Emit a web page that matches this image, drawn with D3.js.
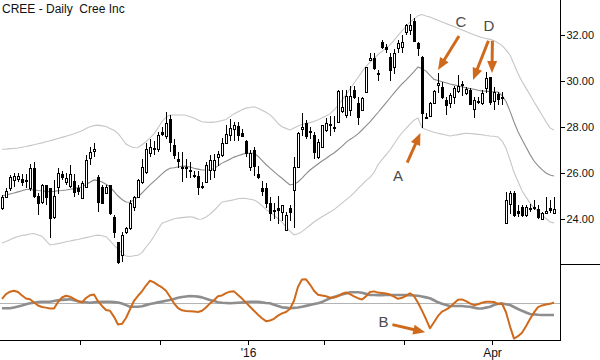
<!DOCTYPE html>
<html><head><meta charset="utf-8">
<script src="https://cdn.jsdelivr.net/npm/d3@7"></script>
<style>
html,body{margin:0;padding:0;background:#fff;}
svg{display:block;font-family:"Liberation Sans",Arial,sans-serif;}
</style></head><body>
<svg id="c" width="600" height="360"></svg>
<script>
// ---- data (one entry per trading day) ----
const opens=[24.48,24.97,25.35,25.70,25.72,25.74,25.70,25.35,26.22,25.00,
24.74,25.48,25.35,24.09,25.39,25.96,25.60,25.43,25.65,25.35,
24.91,25.39,26.65,26.96,25.83,25.39,25.13,25.48,24.09,23.00,
22.43,23.43,23.60,24.52,24.96,25.60,26.04,26.87,27.05,27.04,
27.78,27.60,28.35,27.22,26.60,26.25,26.20,26.15,25.90,25.87,
25.45,25.60,26.13,26.13,26.70,26.78,27.30,27.65,27.91,28.04,
27.74,27.39,26.26,27.00,25.96,25.35,25.35,24.70,24.40,24.48,
24.30,23.52,24.48,25.26,26.26,27.90,28.17,27.80,27.65,26.70,
27.13,27.87,28.10,28.00,28.22,28.70,28.52,28.74,29.61,29.04,
28.74,29.52,30.90,31.00,30.35,31.70,31.48,31.04,30.60,31.43,
31.48,32.13,32.22,32.60,31.65,31.04,28.45,28.48,29.04,29.83,
29.74,29.17,29.04,29.30,29.57,29.83,29.48,29.61,28.78,29.10,
29.04,29.70,30.17,29.13,29.43,29.30,23.83,24.65,25.13,24.35,
24.52,24.17,24.45,24.50,24.43,24.00,24.26,24.48,24.26];
const highs=[25.05,25.35,25.90,26.00,26.00,25.96,25.95,26.40,26.48,25.13,
25.52,25.50,25.35,25.70,26.20,26.10,26.00,26.35,25.96,25.48,
25.65,26.78,27.13,27.30,25.90,25.48,25.48,25.48,24.17,23.00,
23.43,23.65,24.83,25.00,25.74,26.60,27.30,27.50,27.40,27.80,
28.00,28.65,28.52,27.50,26.90,26.90,26.60,26.50,26.10,26.10,
25.60,26.50,26.78,26.83,26.96,27.52,28.10,28.35,28.20,28.20,
27.90,27.43,27.00,27.13,26.30,25.65,25.57,24.96,24.70,25.00,
24.60,24.30,24.60,26.70,27.80,28.60,28.30,28.00,27.80,27.50,
28.10,28.40,28.50,28.50,29.60,29.60,29.60,29.80,29.80,29.30,
29.30,30.60,31.20,31.20,30.48,31.80,31.60,31.20,31.40,31.80,
32.00,32.50,32.90,32.75,31.70,31.10,28.60,29.10,29.60,30.35,
29.96,29.30,29.48,29.78,30.26,30.00,29.74,29.70,29.30,29.30,
29.60,30.40,30.17,29.74,29.52,29.52,25.17,25.20,25.22,24.60,
24.60,24.60,24.65,24.83,24.60,24.30,24.96,24.83,24.96];
const lows=[24.40,24.90,25.20,25.40,25.60,25.45,25.35,25.20,24.90,24.17,
24.65,24.60,23.17,24.00,25.10,25.70,25.50,25.35,24.96,25.04,
24.91,25.39,26.35,26.70,24.30,24.65,25.09,24.17,23.17,22.05,
22.13,23.35,23.52,24.35,24.90,25.52,25.96,26.70,26.80,26.90,
27.60,27.50,26.90,26.60,26.20,25.60,25.80,25.80,25.78,25.04,
25.30,25.55,25.70,25.80,26.30,26.70,27.26,27.40,27.40,27.40,
27.55,26.70,26.10,25.87,25.75,25.00,24.48,23.90,24.00,23.80,
23.90,23.48,23.90,23.60,26.20,27.60,27.50,27.50,26.60,26.60,
27.10,27.80,27.60,27.80,28.20,28.60,28.40,28.50,29.20,28.10,
28.70,29.50,30.85,30.50,30.00,31.40,31.20,30.00,30.30,31.20,
31.20,32.00,32.00,31.70,31.10,27.96,28.35,28.45,29.00,29.48,
29.22,28.52,28.83,29.00,29.50,29.35,29.40,28.96,28.39,29.00,
28.96,29.50,28.96,28.74,28.96,28.96,23.80,24.20,24.10,24.10,
24.10,24.10,24.30,24.39,24.00,23.96,24.26,24.26,24.22];
const closes=[24.96,25.23,25.83,25.87,25.87,25.62,25.65,26.22,25.00,24.70,
25.48,24.96,24.04,25.00,26.00,25.83,25.80,25.96,25.17,25.22,
25.57,26.57,26.91,27.04,24.74,24.70,25.39,24.26,23.43,22.13,
23.30,23.60,24.70,24.96,25.70,26.26,27.04,27.13,27.09,27.65,
27.70,28.17,27.35,26.78,26.52,26.20,26.25,26.10,25.85,25.39,
25.40,26.35,26.57,26.57,26.83,27.30,27.70,27.96,28.09,27.65,
27.61,26.87,26.87,26.30,25.83,25.22,24.70,24.26,24.35,24.40,
24.60,24.17,24.30,26.26,27.74,28.00,27.61,27.82,26.91,27.35,
28.09,28.17,28.12,28.02,29.57,28.87,29.35,29.35,29.30,28.43,
29.26,30.60,31.00,30.57,30.30,31.48,31.39,30.48,31.20,31.65,
31.70,32.43,32.43,31.75,31.43,28.60,28.38,29.04,29.57,29.90,
29.30,28.96,29.39,29.70,29.78,29.87,29.65,29.00,29.17,29.13,
29.48,30.13,29.09,29.52,29.22,29.26,24.83,25.13,24.17,24.26,
24.17,24.52,24.48,24.52,24.09,24.26,24.35,24.40,24.43];
const bandUpper=[27.03,27.04,27.06,27.07,27.09,27.12,27.15,27.19,27.23,27.27,
27.31,27.36,27.40,27.45,27.50,27.55,27.60,27.65,27.71,27.77,
27.84,27.93,28.01,28.06,28.08,28.05,28.02,27.94,27.86,27.72,
27.50,27.26,27.16,27.10,27.11,27.23,27.36,27.53,27.70,27.96,
28.24,28.42,28.52,28.52,28.52,28.52,28.51,28.45,28.39,28.30,
28.23,28.21,28.20,28.21,28.24,28.28,28.33,28.45,28.57,28.66,
28.75,28.82,28.85,28.88,28.82,28.73,28.64,28.53,28.36,28.15,
28.01,27.94,27.87,27.96,28.04,28.11,28.15,28.19,28.24,28.31,
28.40,28.48,28.57,28.74,28.93,29.17,29.41,29.65,29.90,30.15,
30.41,30.64,30.82,30.99,31.14,31.29,31.43,31.57,31.77,31.98,
32.18,32.37,32.57,32.70,32.84,32.89,32.83,32.78,32.71,32.64,
32.57,32.50,32.43,32.37,32.29,32.22,32.15,32.08,32.01,31.95,
31.89,31.85,31.81,31.76,31.65,31.55,31.35,31.13,30.73,30.33,
29.98,29.69,29.40,29.10,28.81,28.52,28.23,27.96,27.87];
const bandMiddle=[25.00,25.04,25.09,25.13,25.18,25.23,25.28,25.28,25.26,25.24,
25.23,25.20,25.19,25.20,25.23,25.24,25.26,25.29,25.32,25.36,
25.39,25.50,25.60,25.70,25.67,25.61,25.51,25.40,25.20,25.00,
24.85,24.74,24.73,24.83,24.96,25.13,25.31,25.48,25.64,25.80,
25.96,26.11,26.21,26.23,26.26,26.29,26.30,26.26,26.21,26.17,
26.13,26.13,26.13,26.20,26.31,26.43,26.51,26.60,26.69,26.75,
26.81,26.86,26.86,26.86,26.73,26.55,26.37,26.21,26.06,25.91,
25.77,25.62,25.48,25.52,25.61,25.78,25.96,26.13,26.26,26.39,
26.52,26.63,26.76,26.87,27.01,27.16,27.33,27.46,27.57,27.70,
27.87,28.05,28.22,28.43,28.63,28.84,29.05,29.26,29.47,29.68,
29.87,30.04,30.22,30.41,30.61,30.53,30.43,30.24,30.07,30.02,
29.97,29.92,29.87,29.83,29.79,29.75,29.70,29.67,29.64,29.60,
29.57,29.56,29.54,29.53,29.52,29.37,29.11,28.69,28.22,27.79,
27.46,27.13,26.81,26.52,26.32,26.15,26.00,25.91,25.87];
const bandLower=[22.96,23.02,23.10,23.18,23.24,23.28,23.31,23.35,23.37,23.30,
23.25,23.06,22.87,22.90,22.93,22.97,23.01,23.04,23.08,23.11,
23.15,23.19,23.23,23.27,23.30,23.27,23.23,23.06,22.86,22.68,
22.53,22.39,22.37,22.40,22.42,22.54,22.77,22.99,23.25,23.54,
23.82,23.88,23.95,24.01,24.04,24.06,24.08,24.10,24.07,23.99,
24.00,24.09,24.21,24.37,24.55,24.73,24.77,24.80,24.84,24.88,
24.90,24.89,24.86,24.83,24.73,24.58,24.42,24.29,24.16,24.02,
23.86,23.66,23.47,23.31,23.36,23.45,23.59,23.73,23.87,23.99,
24.10,24.20,24.30,24.41,24.55,24.69,24.83,24.97,25.14,25.32,
25.49,25.67,25.81,26.02,26.36,26.58,26.79,27.00,27.26,27.52,
27.75,27.94,28.13,28.30,28.39,27.96,27.89,27.83,27.77,27.73,
27.69,27.65,27.61,27.64,27.67,27.70,27.73,27.72,27.70,27.68,
27.66,27.63,27.61,27.60,27.57,27.40,27.08,26.57,26.03,25.63,
25.23,24.95,24.70,24.48,24.33,24.18,24.02,23.87,23.83];
const oscillator=[55.3,61.8,64.9,66.2,64.5,59.9,55.9,54.9,50.7,46.7,
44.7,43.9,42.8,42.8,51.3,57.2,59.5,58.3,55.5,52.4,
50.8,56.6,60.1,61.2,52.4,46.1,40.7,39.9,31.8,21.8,
22.6,30.3,41.6,52.9,59.5,65.4,73.0,79.3,77.2,73.6,
70.5,66.1,58.3,49.6,43.4,40.4,39.6,39.1,38.7,38.2,
39.9,44.1,49.5,53.6,58.8,59.9,63.0,64.9,65.3,60.5,
55.8,50.5,45.1,39.9,34.6,30.0,26.1,27.0,29.2,33.4,
36.4,38.2,42.4,52.9,71.4,80.9,81.2,74.3,66.2,60.9,
59.9,58.8,57.0,57.2,59.1,62.1,63.8,61.6,58.7,56.3,
54.5,58.7,64.5,65.3,63.7,63.2,62.4,61.1,58.4,55.5,
56.8,59.5,62.8,59.2,50.4,39.9,28.9,16.7,24.7,33.0,
38.6,41.2,44.6,49.6,54.2,54.7,52.4,49.5,47.1,48.3,
50.3,51.6,51.7,51.3,48.6,49.3,37.8,19.3,3.2,6.3,
10.8,19.5,28.9,37.6,44.6,46.8,47.9,48.9,50.7];
const oscSignal=[43.0,43.0,43.0,44.2,45.4,46.7,48.2,49.6,50.4,51.3,
51.7,51.7,51.7,52.6,53.6,54.1,54.5,54.9,53.6,52.4,
51.4,50.9,50.4,50.9,51.4,51.7,51.7,51.7,51.2,50.7,
49.3,47.2,45.1,45.1,45.1,45.8,47.2,48.7,49.7,50.8,
51.8,52.9,53.9,55.4,56.8,57.9,58.6,59.2,58.8,58.4,
57.4,55.7,53.9,52.5,51.1,50.3,49.9,49.6,49.9,50.3,
50.7,51.2,51.7,51.7,51.7,50.8,50.1,49.6,47.8,46.1,
44.3,43.9,43.0,43.6,44.1,45.0,46.2,47.4,48.6,49.7,
51.3,53.8,56.2,57.9,59.6,61.2,62.6,64.1,64.1,64.1,
63.4,62.0,60.5,60.5,60.3,60.3,60.5,60.5,60.5,60.5,
60.5,60.3,60.3,59.9,59.5,58.6,57.4,56.2,53.6,50.9,
48.9,47.5,46.1,46.1,46.1,46.0,45.5,45.1,43.9,42.8,
42.8,43.9,45.1,47.4,49.1,49.2,48.3,47.4,44.7,42.1,
39.7,37.6,35.5,35.0,34.5,34.2,34.2,34.2,34.2];
const oscRef=50;
const priceTicks=[24,26,28,30,32];
const monthTickIdx=[21,41,63,82,102,124];
const monthTickLabels=["","","'16","","","Apr"];
const title="CREE - Daily  Cree Inc";
// annotations in data coords: [dayIndex, value]
const annotations=[
 {label:"C", panel:"price", at:[115.75,32.57], arrows:[[[115.25,31.96],[110,30.48]]]},
 {label:"D", panel:"price", at:[122.75,32.40], arrows:[[[122.6,31.75],[118.75,30.04]],[[123.6,31.75],[123.5,30.35]]]},
 {label:"A", panel:"price", at:[100,25.87], arrows:[[[102.3,26.45],[105.6,27.74]]]},
 {label:"B", panel:"osc", at:[96.4,25], arrows:[[[98.6,21.5],[106.8,11.5]]]}
];

// ---- drawing ----
const svg=d3.select("#c");
const axisX=560;
const x=d3.scaleLinear().domain([1,139]).range([2,554]);
const y=d3.scaleLinear().domain([22,32]).range([265,35]);
const yo=d3.scaleLinear().domain([0,100]).range([341,265]);
const days=d3.range(1,opens.length+1);
const candles=days.map((d,i)=>({i:d,o:opens[i],h:highs[i],l:lows[i],c:closes[i]}));

function bandLine(arr,sc){return d3.line().x((d,i)=>x(i+1)).y(d=>sc(d))(arr);}
svg.append("path").attr("d",bandLine(bandUpper,y)).attr("fill","none").attr("stroke","#c6c6c6").attr("stroke-width",1.1);
svg.append("path").attr("d",bandLine(bandLower,y)).attr("fill","none").attr("stroke","#c6c6c6").attr("stroke-width",1.1);
svg.append("path").attr("d",bandLine(bandMiddle,y)).attr("fill","none").attr("stroke","#8c8c8c").attr("stroke-width",1.1);

const g=svg.append("g").attr("shape-rendering","crispEdges");
g.selectAll("line.w").data(candles).join("line").attr("class","w")
 .attr("x1",d=>Math.round(x(d.i))+0.5).attr("x2",d=>Math.round(x(d.i))+0.5)
 .attr("y1",d=>y(d.h)).attr("y2",d=>y(d.l)).attr("stroke","#000").attr("stroke-width",1);
g.selectAll("rect.b").data(candles).join("rect").attr("class","b")
 .attr("x",d=>Math.round(x(d.i))-0.5).attr("width",2)
 .attr("y",d=>Math.round(y(Math.max(d.o,d.c)))+0.5)
 .attr("height",d=>Math.max(1,Math.round(y(Math.min(d.o,d.c)))-Math.round(y(Math.max(d.o,d.c)))))
 .attr("fill",d=>d.c>=d.o?"#fff":"#000").attr("stroke","#000").attr("stroke-width",1);

// oscillator panel
svg.append("line").attr("x1",0).attr("x2",axisX).attr("y1",Math.round(yo(oscRef))+0.5).attr("y2",Math.round(yo(oscRef))+0.5)
 .attr("stroke","#b4b4b4").attr("stroke-width",1);
svg.append("path").attr("d",bandLine(oscSignal,yo)).attr("fill","none").attr("stroke","#8e8e8e").attr("stroke-width",2.6).attr("stroke-linejoin","round");
svg.append("path").attr("d",bandLine(oscillator,yo)).attr("fill","none").attr("stroke","#cf6a1c").attr("stroke-width",2).attr("stroke-linejoin","round");

// axes
const ya=d3.axisRight(y).tickValues(priceTicks).tickFormat(d3.format(".2f")).tickSize(4).tickPadding(2);
const yg=svg.append("g").attr("transform",`translate(${axisX+0.5},0)`).call(ya);
yg.select(".domain").remove();
yg.selectAll("text").attr("font-size",11).attr("fill","#111").attr("font-family","Liberation Sans, Arial, sans-serif");
yg.selectAll("line").attr("stroke","#000").attr("shape-rendering","crispEdges");
svg.append("line").attr("x1",axisX+0.5).attr("x2",axisX+0.5).attr("y1",0).attr("y2",341).attr("stroke","#000").attr("shape-rendering","crispEdges");
svg.append("line").attr("x1",axisX).attr("x2",600).attr("y1",264.5).attr("y2",264.5).attr("stroke","#000").attr("shape-rendering","crispEdges");

const xa=d3.axisBottom(x).tickValues(monthTickIdx.map(d=>d-0.5)).tickFormat((d,i)=>monthTickLabels[i]).tickSize(4).tickPadding(4);
const xg=svg.append("g").attr("transform","translate(0,340.5)").call(xa);
xg.select(".domain").remove();
xg.selectAll("line").attr("stroke","#000").attr("shape-rendering","crispEdges");
xg.selectAll("text").attr("font-size",12).attr("fill","#111").attr("font-family","Liberation Sans, Arial, sans-serif");
svg.append("line").attr("x1",0).attr("x2",axisX).attr("y1",340.5).attr("y2",340.5).attr("stroke","#000").attr("shape-rendering","crispEdges");

// title
svg.append("text").attr("x",2).attr("y",13).attr("font-size",12).attr("fill","#111")
 .style("white-space","pre").text(title);

// annotations
const orange="#cf6a1c";
annotations.forEach(a=>{
  const sc=a.panel==="osc"?yo:y;
  a.arrows.forEach(ar=>{
    const x1=x(ar[0][0]),y1=sc(ar[0][1]),x2=x(ar[1][0]),y2=sc(ar[1][1]);
    const dx=x2-x1,dy=y2-y1,len=Math.hypot(dx,dy),ux=dx/len,uy=dy/len;
    const hl=12,hw=5;
    const bx=x2-ux*hl,by=y2-uy*hl;
    svg.append("line").attr("x1",x1).attr("y1",y1).attr("x2",bx+ux*2).attr("y2",by+uy*2)
      .attr("stroke",orange).attr("stroke-width",3);
    svg.append("path").attr("d",`M${x2},${y2}L${bx-uy*hw},${by+ux*hw}L${bx+uy*hw},${by-ux*hw}Z`).attr("fill",orange);
  });
  svg.append("text").attr("x",x(a.at[0])).attr("y",sc(a.at[1])).attr("dy","0.36em").attr("text-anchor","middle")
   .attr("font-size",15).attr("fill","#4a4a4a").text(a.label);
});
</script>
</body></html>
